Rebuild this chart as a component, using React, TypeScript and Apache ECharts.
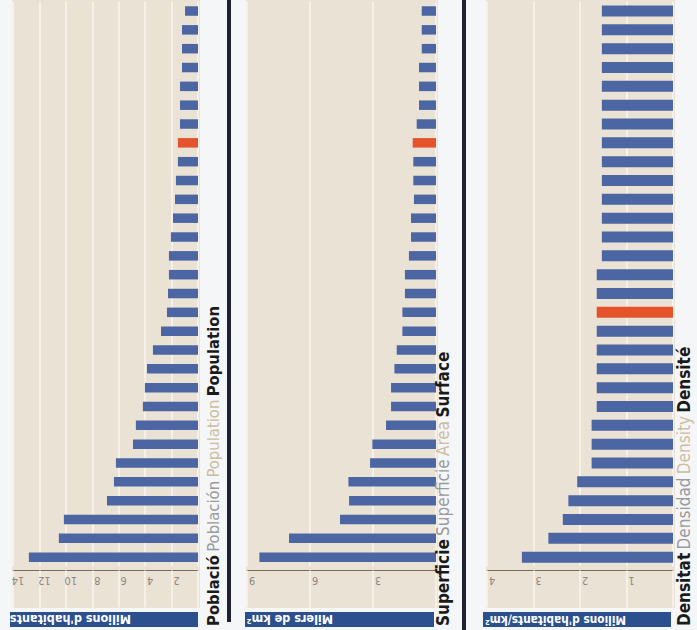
import React, { useEffect, useRef } from "react";
import * as echarts from "echarts";

// ---- data (top bar first) ----
const categories = [
  "1", "2", "3", "4", "5", "6", "7", "8", "9", "10",
  "11", "12", "13", "14", "15", "16", "17", "18", "19", "20",
  "21", "22", "23", "24", "25", "26", "27", "28", "29", "30",
];

// Milions d'habitants
const populationValues = [
  0.98, 1.21, 1.21, 1.21, 1.36, 1.36, 1.36, 1.52, 1.52, 1.67,
  1.74, 1.89, 2.05, 2.2, 2.2, 2.27, 2.35, 2.8, 3.41, 3.86,
  4.02, 4.17, 4.7, 4.92, 6.21, 6.36, 6.89, 10.15, 10.53, 12.8,
];
const populationHighlight = 7;

// Milers de km²
const surfaceValues = [
  0.68, 0.68, 0.68, 0.81, 0.81, 0.81, 0.92, 1.11, 1.08, 1.08,
  1.05, 1.19, 1.19, 1.29, 1.48, 1.48, 1.6, 1.6, 1.87, 1.98,
  2.14, 2.14, 2.38, 3.03, 3.14, 4.17, 4.14, 4.57, 7.0, 8.41,
];
const surfaceHighlight = 7;

// Densitat
const densityValues = [
  1.53, 1.53, 1.53, 1.53, 1.53, 1.53, 1.53, 1.53, 1.53, 1.53,
  1.53, 1.53, 1.53, 1.53, 1.64, 1.64, 1.64, 1.64, 1.64, 1.64,
  1.64, 1.64, 1.75, 1.75, 1.75, 2.06, 2.25, 2.37, 2.68, 3.25,
];
const densityHighlight = 16;

const panelTitles = [
  ["Població", "Población", "Population", "Population"],
  ["Superficie", "Superficie", "Area", "Surface"],
  ["Densitat", "Densidad", "Density", "Densité"],
];
const unitLabels = ["Milions d'habitants", "Milers de km²", "Milions d'habitants/km²"];
const axisMax = [14, 9, 4];
const axisInterval = [2, 3, 1];

// ---- styles ----
const BG = "#f5f6f8";
const BEIGE = "#ebe2d6";
const GRIDLINE = "#f8f5ef";
const BAR = "#4b66a2";
const RED = "#e5532c";
const NAVY_BOX = "#2c4f8e";
const SEP = "#1e2134";
const FONT = "'Liberation Sans Narrow', 'DejaVu Sans Condensed', 'Roboto Condensed', sans-serif";

const layout = [
  { left: 13, width: 185, titleX: 213, boxX: 10, boxW: 188, unitX: 131, unitSize: 12.5, barW: 9.5, titleSize: 16.5 },
  { left: 247, width: 189, titleX: 443, boxX: 245, boxW: 189, unitX: 333, unitSize: 12.5, barW: 9.5, titleSize: 17 },
  { left: 487, width: 186, titleX: 684, boxX: 483, boxW: 188, unitX: 626, unitSize: 11.8, barW: 11, titleSize: 17 },
];
const GRID_TOP = 1.6;
const GRID_H = 565;

export default function App() {
  const ref = useRef<HTMLDivElement>(null);
  useEffect(() => {
    if (!ref.current) return;
    const chart = echarts.init(ref.current, null, { renderer: "svg" });
    const seriesData = [populationValues, surfaceValues, densityValues];
    const highlights = [populationHighlight, surfaceHighlight, densityHighlight];

    const graphics: any[] = [];
    layout.forEach((l, i) => {
      graphics.push({
        type: "rect",
        z: -10,
        shape: { x: l.left - 1, y: 0, width: l.width + 3, height: 608 },
        style: { fill: BEIGE },
      });
      graphics.push({
        type: "rect",
        z: 10,
        shape: { x: l.boxX, y: 612, width: l.boxW, height: 15 },
        style: { fill: NAVY_BOX },
      });
      graphics.push({
        type: "text",
        z: 11,
        x: l.unitX,
        y: 619.5,
        rotation: Math.PI,
        style: {
          text: unitLabels[i],
          fill: "#ffffff",
          font: `bold ${l.unitSize}px ${FONT}`,
          align: "left",
          verticalAlign: "middle",
        },
      });
      const t = panelTitles[i];
      const fs = l.titleSize;
      graphics.push({
        type: "text",
        z: 11,
        x: l.titleX,
        y: 626,
        rotation: Math.PI / 2,
        style: {
          text: `{a|${t[0]}} {b|${t[1]}} {c|${t[2]}} {a|${t[3]}}`,
          align: "left",
          verticalAlign: "middle",
          rich: {
            a: { fontFamily: FONT, fontWeight: "bold", fontSize: fs, fill: "#1a1a1a" },
            b: { fontFamily: FONT, fontWeight: "normal", fontSize: fs, fill: "#9a9a9a" },
            c: { fontFamily: FONT, fontWeight: "normal", fontSize: fs, fill: "#cdbd9f" },
          },
        },
      });
    });
    graphics.push({ type: "rect", z: 10, shape: { x: 227, y: 0, width: 4, height: 622 }, style: { fill: SEP } });
    graphics.push({ type: "rect", z: 10, shape: { x: 462, y: 0, width: 4, height: 630 }, style: { fill: SEP } });

    chart.setOption({
      animation: false,
      backgroundColor: BG,
      graphic: { elements: graphics },
      grid: layout.map((l) => ({
        left: l.left,
        width: l.width,
        top: GRID_TOP,
        height: GRID_H,
        containLabel: false,
      })),
      xAxis: layout.map((_, i) => ({
        gridIndex: i,
        type: "value",
        inverse: true,
        min: 0,
        max: axisMax[i],
        interval: axisInterval[i],
        position: "bottom",
        offset: 4,
        axisLine: { show: true, lineStyle: { color: "#7b6a55", width: 1 } },
        axisTick: { show: true, length: 37, lineStyle: { color: GRIDLINE, width: 1.5 } },
        axisLabel: {
          rotate: 180,
          margin: 4,
          color: "#8d877c",
          fontSize: 11,
          fontFamily: FONT,
          padding: [0, 10, 0, 0],
          formatter: (v: number) => (v === 0 ? "" : String(v)),
        },
        splitLine: { show: true, lineStyle: { color: GRIDLINE, width: 1.5 } },
      })),
      yAxis: layout.map((_, i) => ({
        gridIndex: i,
        type: "category",
        inverse: true,
        data: categories,
        axisLine: { show: false },
        axisTick: { show: false },
        axisLabel: { show: false },
        splitLine: { show: false },
      })),
      series: layout.map((l, i) => ({
        type: "bar",
        xAxisIndex: i,
        yAxisIndex: i,
        barWidth: l.barW,
        data: seriesData[i].map((v, k) => ({
          value: v,
          itemStyle: { color: k === highlights[i] ? RED : BAR },
        })),
      })),
    });
    return () => chart.dispose();
  }, []);
  return (
    <div
      ref={ref}
      style={{ position: "fixed", left: 0, top: 0, width: 697, height: 630 }}
    />
  );
}
